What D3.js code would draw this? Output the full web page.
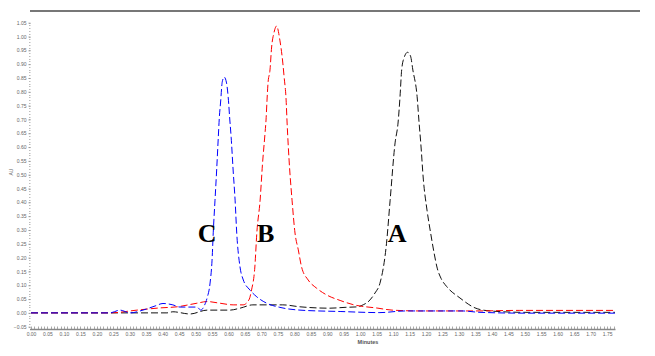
<!DOCTYPE html>
<html>
<head>
<meta charset="utf-8">
<script src="https://cdn.jsdelivr.net/npm/d3@7"></script>
<style>
  html, body { margin: 0; padding: 0; background: #fff; }
  svg { display: block; }
</style>
</head>
<body>
<script>
// chart size
const width = 655;
const height = 356;

// axis ticks
const xTicks = d3.range(0, 36).map(i => +(i * 0.05).toFixed(2));   // 0.00 .. 1.75 min
const yTicks = d3.range(-1, 22).map(i => +(i * 0.05).toFixed(2));   // -0.05 .. 1.05 AU

// trace A (black): [minutes, AU]
const traceA = [
  [0.000, 0.000], [0.413, 0.000], [0.431, 0.004], [0.483, -0.004], [0.535, 0.010],
  [0.604, 0.010], [0.635, 0.017], [0.674, 0.029], [0.765, 0.029], [0.817, 0.022],
  [0.908, 0.017], [0.954, 0.020], [0.993, 0.022], [1.005, 0.027], [1.030, 0.047],
  [1.045, 0.072], [1.060, 0.107], [1.080, 0.252], [1.091, 0.408], [1.106, 0.615],
  [1.115, 0.687], [1.121, 0.782], [1.126, 0.879], [1.133, 0.922], [1.144, 0.943],
  [1.153, 0.929], [1.160, 0.879], [1.173, 0.782], [1.179, 0.687], [1.184, 0.615],
  [1.192, 0.481], [1.203, 0.372], [1.214, 0.289], [1.224, 0.220], [1.234, 0.162],
  [1.246, 0.124], [1.263, 0.095], [1.303, 0.054], [1.349, 0.018], [1.394, 0.007],
  [1.501, 0.002], [1.774, 0.002]
];

// trace B (red)
const traceB = [
  [0.000, 0.000], [0.240, 0.000], [0.322, 0.010], [0.392, 0.018], [0.444, 0.022],
  [0.504, 0.035], [0.535, 0.041], [0.574, 0.035], [0.614, 0.029], [0.644, 0.029],
  [0.662, 0.047], [0.670, 0.083], [0.680, 0.166], [0.686, 0.289], [0.696, 0.408],
  [0.703, 0.535], [0.711, 0.651], [0.714, 0.698], [0.717, 0.770], [0.720, 0.831],
  [0.726, 0.879], [0.731, 0.962], [0.738, 1.013], [0.746, 1.038], [0.756, 0.987],
  [0.765, 0.904], [0.769, 0.853], [0.775, 0.770], [0.778, 0.687], [0.784, 0.553],
  [0.793, 0.408], [0.802, 0.289], [0.812, 0.228], [0.822, 0.166], [0.842, 0.119],
  [0.868, 0.089], [0.898, 0.065], [0.939, 0.045], [0.978, 0.030], [1.054, 0.017],
  [1.097, 0.010], [1.182, 0.007], [1.349, 0.007], [1.485, 0.009], [1.774, 0.009]
];

// trace C (blue)
const traceC = [
  [0.000, 0.000], [0.240, 0.000], [0.270, 0.010], [0.301, 0.000], [0.340, 0.010],
  [0.377, 0.025], [0.401, 0.034], [0.431, 0.029], [0.453, 0.021], [0.483, 0.021],
  [0.504, 0.021], [0.516, 0.010], [0.526, 0.025], [0.535, 0.054], [0.544, 0.108],
  [0.550, 0.191], [0.554, 0.300], [0.559, 0.408], [0.564, 0.517], [0.569, 0.636],
  [0.572, 0.705], [0.576, 0.763], [0.581, 0.836], [0.587, 0.853], [0.594, 0.832],
  [0.599, 0.781], [0.604, 0.698], [0.608, 0.636], [0.614, 0.517], [0.620, 0.408],
  [0.625, 0.289], [0.635, 0.166], [0.645, 0.119], [0.665, 0.083], [0.686, 0.058],
  [0.716, 0.035], [0.756, 0.020], [0.817, 0.010], [0.939, 0.005], [1.060, 0.001],
  [1.136, 0.007], [1.309, 0.007], [1.364, 0.002], [1.501, -0.001], [1.774, -0.001]
];

const series = [
  { name: 'A', color: '#111111', data: traceA },
  { name: 'B', color: '#ff0000', data: traceB },
  { name: 'C', color: '#0000ff', data: traceC }
];

// peak labels: [text, minutes, AU]
const peakLabels = [['C', 0.535, 0.255], ['B', 0.713, 0.255], ['A', 1.112, 0.255]];

const svg = d3.select('body').append('svg')
  .attr('width', width)
  .attr('height', height);

// scales
const x = d3.scaleLinear().domain([0, 1.775]).range([31, 615.3]);
const y = d3.scaleLinear().domain([-0.05, 1.05]).range([326.7, 22.7]);

// top frame line
svg.append('line')
  .attr('x1', 30).attr('x2', 640)
  .attr('y1', 11).attr('y2', 11)
  .attr('stroke', '#777').attr('stroke-width', 2);

// left axis: minor ticks every 0.01
const yMinor = d3.range(-5, 106).map(i => i / 100);
svg.append('g').selectAll('line')
  .data(yMinor)
  .enter().append('line')
  .attr('x1', 29).attr('x2', 30.5)
  .attr('y1', d => Math.round(y(d)) + 0.5).attr('y2', d => Math.round(y(d)) + 0.5)
  .attr('stroke', '#bbb').attr('stroke-width', 1);

const yAxis = d3.axisLeft(y)
  .tickValues(yTicks)
  .tickSize(2)
  .tickPadding(2)
  .tickFormat(d3.format('.2f'));

svg.append('g')
  .attr('transform', 'translate(30.5,0)')
  .call(yAxis)
  .call(g => g.select('.domain').remove())
  .call(g => g.selectAll('line').attr('stroke', '#999'))
  .call(g => g.selectAll('text')
    .attr('fill', '#666')
    .style('font-family', 'Liberation Sans, Arial, sans-serif')
    .style('font-size', '5px'));

// y axis title
svg.append('text')
  .attr('transform', 'translate(13,172) rotate(-90)')
  .attr('text-anchor', 'middle')
  .attr('fill', '#666')
  .style('font-family', 'Liberation Sans, Arial, sans-serif')
  .style('font-size', '5px')
  .text('AU');

// bottom axis
const xMinor = d3.range(0, 178).map(i => i / 100);
svg.append('g').selectAll('line')
  .data(xMinor)
  .enter().append('line')
  .attr('x1', d => Math.round(x(d)) + 0.5).attr('x2', d => Math.round(x(d)) + 0.5)
  .attr('y1', 326.5).attr('y2', 329)
  .attr('stroke', '#aaa').attr('stroke-width', 1);

svg.append('line')
  .attr('x1', 30).attr('x2', 615.5)
  .attr('y1', 329.5).attr('y2', 329.5)
  .attr('stroke', '#888').attr('stroke-width', 1.6);

const xAxis = d3.axisBottom(x)
  .tickValues(xTicks)
  .tickSize(0)
  .tickPadding(2)
  .tickFormat(d3.format('.2f'));

svg.append('g')
  .attr('transform', 'translate(0,330)')
  .call(xAxis)
  .call(g => g.select('.domain').remove())
  .call(g => g.selectAll('text')
    .attr('fill', '#666')
    .style('font-family', 'Liberation Sans, Arial, sans-serif')
    .style('font-size', '5px'));

svg.append('text')
  .attr('x', 368).attr('y', 344)
  .attr('text-anchor', 'middle')
  .attr('fill', '#555')
  .style('font-family', 'Liberation Sans, Arial, sans-serif')
  .style('font-size', '5.5px')
  .style('font-weight', 'bold')
  .text('Minutes');

// traces (dashed)
const line = d3.line()
  .x(d => x(d[0]))
  .y(d => y(d[1]))
  .curve(d3.curveMonotoneX);

svg.append('g').selectAll('path')
  .data(series)
  .enter().append('path')
  .attr('d', d => line(d.data))
  .attr('fill', 'none')
  .attr('stroke', d => d.color)
  .attr('stroke-width', 1)
  .attr('stroke-dasharray', '7,3');

// peak letters
svg.append('g').selectAll('text')
  .data(peakLabels)
  .enter().append('text')
  .attr('x', d => x(d[1]))
  .attr('y', d => y(d[2]))
  .attr('text-anchor', 'middle')
  .attr('fill', '#000')
  .style('font-family', 'Liberation Serif, Times New Roman, serif')
  .style('font-weight', 'bold')
  .style('font-size', '26px')
  .text(d => d[0]);
</script>
</body>
</html>
